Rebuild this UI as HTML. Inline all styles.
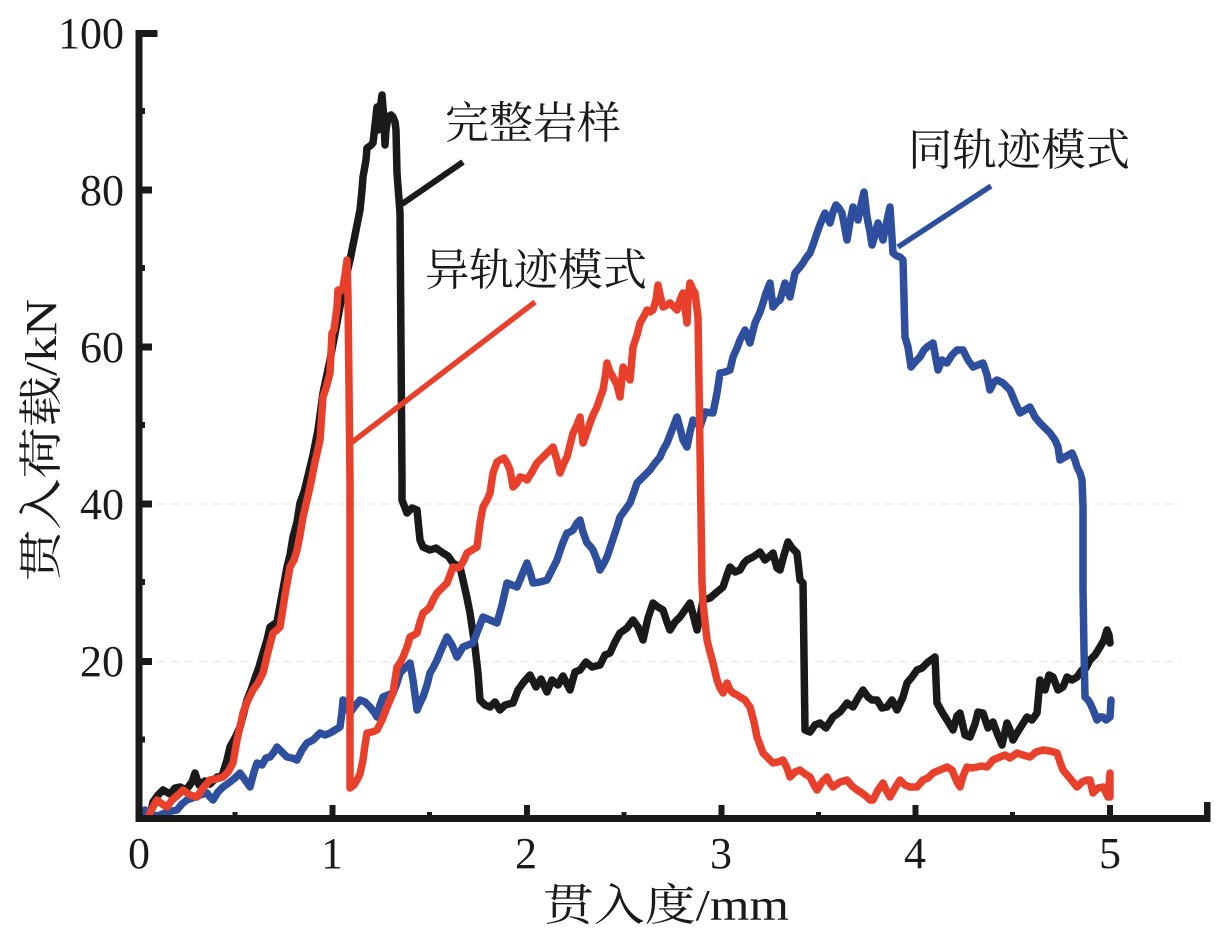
<!DOCTYPE html>
<html>
<head>
<meta charset="utf-8">
<style>
html,body{margin:0;padding:0;background:#fff;}
svg{display:block;}
.num{font-family:"Liberation Serif","Noto Serif CJK SC",serif;font-size:44px;fill:#1a1a1a;}
.cjk{font-family:"Liberation Serif","Noto Serif CJK SC","Noto Sans CJK SC",serif;font-size:44px;fill:#1a1a1a;}
</style>
</head>
<body>
<svg width="1223" height="944" viewBox="0 0 1223 944" xmlns="http://www.w3.org/2000/svg">
<rect width="1223" height="944" fill="#fff"/>
<!-- faint grid -->
<line x1="143" y1="504" x2="1180" y2="504" stroke="#e6e6e6" stroke-width="1.2" stroke-dasharray="8,6"/>
<line x1="143" y1="661.5" x2="1180" y2="661.5" stroke="#e6e6e6" stroke-width="1.2" stroke-dasharray="8,6"/>

<!-- series -->
<g fill="none" stroke-linejoin="round" stroke-linecap="round" stroke-width="7.5">
<polyline stroke="#1a1a1a" points="150,816 153,802 158,795 163,790 170,794 175,788 180,787 186,790 192,782 195,773 199,785 205,781 210,784 217,777 222,776 227,760 230,747 235,738 240,727 244,712 247,700 251,690 255,678 259,667 263,653 267,640 270,627 277,622 281,600 287,567 290,555 293,537 297,522 300,503 304,492 307,480 313,455 318,430 323,393 330,360 337,323 343,290 350,260 355,235 360,210 362,190 363,177 366,160 367,148 370,146 373,143 375,125 377,107 378,130 380,110 382,95 384,120 385,145 386,130 388,117 391,115 393,117 395,122 396,130 397,173 400,213 402,480 402,500 407,513 412,508 417,510 420,540 423,547 430,550 436,548 443,553 448,556 453,563 460,567 463,580 467,598 470,613 475,647 478,673 480,700 485,705 490,707 495,702 500,710 505,705 513,703 518,690 523,683 530,675 536,687 541,679 547,692 552,680 558,685 563,676 570,690 575,672 580,670 586,662 592,667 600,665 605,655 610,653 615,642 620,633 627,628 633,620 638,627 643,640 648,618 653,603 658,607 663,610 667,622 670,630 675,622 680,617 685,610 690,603 694,618 697,630 700,617 703,600 710,598 717,592 723,587 727,575 730,567 735,572 740,570 744,563 747,560 753,557 760,552 765,560 770,556 773,553 777,568 780,570 784,555 788,542 792,548 797,553 800,580 803,583 805,730 810,732 815,725 820,723 826,728 833,717 840,712 847,703 853,707 858,698 863,690 868,697 872,700 877,700 882,708 887,707 892,700 897,710 903,697 907,683 912,677 917,670 922,668 928,662 935,657 937,703 942,712 947,720 953,730 957,716 960,713 965,735 970,737 975,724 978,712 983,713 988,728 993,722 997,733 1000,740 1002,745 1007,723 1010,730 1013,740 1017,733 1022,725 1027,717 1032,720 1037,713 1040,680 1045,690 1049,675 1053,677 1058,690 1063,687 1067,677 1072,680 1077,677 1082,670 1086,668 1090,660 1095,655 1100,647 1104,640 1107,630 1109,635 1110,643"/>
<polyline stroke="#2d4f9e" points="142,815 145,810 150,814 158,816 165,813 172,811 177,810 182,804 187,800 195,797 200,795 207,793 210,797 213,800 218,792 223,787 230,782 235,778 240,773 245,780 250,787 254,772 257,763 262,765 266,758 270,757 274,752 277,747 282,752 287,757 292,758 297,760 302,750 307,743 313,740 320,733 325,735 330,733 335,730 340,727 342,712 343,700 347,707 350,713 355,706 360,700 365,702 370,707 374,712 377,717 380,705 383,697 388,695 393,693 397,683 400,673 405,668 410,663 413,680 417,710 420,703 423,697 427,685 430,673 433,668 437,660 442,648 447,637 452,645 457,657 460,652 463,647 468,645 473,643 478,630 483,617 490,620 497,623 502,605 507,583 512,585 517,587 522,575 527,563 530,572 533,583 540,582 547,580 552,570 557,560 562,545 567,533 570,532 573,530 577,523 580,520 583,532 587,543 590,546 593,550 597,560 600,570 603,565 607,557 612,542 617,527 620,517 625,510 630,503 634,492 637,483 643,477 650,470 655,463 660,457 663,450 667,443 672,430 677,417 680,428 683,440 687,447 690,432 693,420 697,423 700,427 705,412 713,413 717,393 720,373 725,372 730,370 733,357 737,348 740,340 745,330 750,343 755,323 760,312 763,303 766,293 770,283 773,307 777,302 780,300 785,283 790,297 795,273 800,267 803,263 806,258 810,253 814,242 817,233 821,222 825,213 830,223 833,212 836,205 839,208 842,213 847,240 850,222 853,207 858,220 861,205 864,192 867,217 870,232 872,245 875,235 878,223 883,240 886,225 890,207 893,253 897,256 900,257 903,260 905,337 908,347 911,367 915,362 920,357 924,350 927,347 930,345 933,343 938,370 942,360 947,363 952,355 957,350 963,350 968,360 973,367 978,365 983,363 987,375 990,390 994,382 997,380 1003,383 1007,387 1010,390 1015,402 1020,413 1025,410 1030,407 1035,417 1040,423 1045,428 1050,433 1055,440 1058,447 1060,460 1065,457 1072,453 1075,460 1077,467 1080,473 1082,480 1083,507 1083,590 1084,650 1085,697 1088,700 1090,703 1094,712 1097,720 1100,717 1103,717 1106,720 1110,717 1111,700"/>
<polyline stroke="#e8402b" points="148,818 150,813 154,805 157,800 162,804 167,807 172,800 178,795 183,790 190,795 197,797 203,788 210,780 216,779 223,777 228,772 233,763 237,740 240,727 243,713 248,700 253,690 258,683 263,673 268,652 273,633 277,630 280,627 285,595 290,567 294,560 297,550 300,535 303,517 307,500 310,487 315,462 320,440 323,397 326,388 330,373 332,333 334,330 337,307 338,290 341,291 343,287 345,275 347,260 348,297 350,480 350,788 354,785 357,780 360,774 363,760 365,745 367,733 372,732 377,730 382,720 387,707 390,700 393,693 397,667 400,663 403,657 407,647 410,637 414,635 417,633 420,622 423,613 427,610 430,607 433,600 437,593 442,588 447,583 450,575 453,567 457,568 460,567 464,560 467,553 472,550 477,547 480,523 483,507 487,500 490,493 493,473 497,462 500,460 504,458 507,463 510,470 513,487 517,483 520,477 524,478 527,480 532,472 537,463 542,458 547,453 550,450 553,447 557,460 560,473 563,465 567,457 570,445 573,433 577,425 580,417 583,443 587,432 590,423 593,415 597,407 600,398 603,390 605,378 607,363 610,372 613,377 617,385 620,397 623,367 627,375 630,380 633,347 637,335 640,323 644,316 647,310 650,312 653,310 656,300 658,285 660,295 663,307 667,305 670,303 673,306 677,310 680,300 683,293 687,323 688,300 690,283 693,290 695,293 698,317 700,450 702,583 703,603 707,640 710,652 713,663 717,680 720,688 723,693 727,683 730,690 733,693 737,695 740,697 745,700 747,703 750,707 754,722 757,737 760,745 763,753 768,758 773,763 778,762 783,760 787,768 790,777 795,772 800,770 805,774 810,777 814,785 817,790 822,782 827,777 830,783 833,787 840,782 847,780 852,786 857,790 862,793 867,797 870,800 873,800 878,790 883,783 886,790 890,797 895,788 900,780 905,785 910,787 917,787 923,780 928,778 933,773 940,770 947,767 952,770 957,782 960,787 963,776 967,767 972,768 977,767 982,766 987,767 993,760 1000,757 1005,755 1010,758 1017,753 1023,755 1030,757 1036,752 1043,750 1050,751 1057,753 1060,762 1063,770 1068,776 1073,782 1077,787 1082,782 1087,780 1090,780 1093,793 1098,788 1103,787 1106,793 1108,797 1110,773 1110,797"/>
</g>

<!-- leader lines -->
<line x1="402" y1="204" x2="463" y2="162" stroke="#1a1a1a" stroke-width="6"/>
<line x1="351" y1="443" x2="535" y2="302" stroke="#e8402b" stroke-width="5.5"/>
<line x1="898" y1="247" x2="991" y2="186" stroke="#2d4f9e" stroke-width="5.5"/>

<!-- axes -->
<g fill="#1a1a1a">
<rect x="135.5" y="30" width="7" height="792"/>
<rect x="135.5" y="815" width="1075" height="7"/>
<rect x="135.5" y="30" width="22" height="7"/>
<rect x="140" y="186.5" width="12" height="7"/>
<rect x="140" y="343.5" width="12" height="7"/>
<rect x="140" y="500.5" width="12" height="7"/>
<rect x="140" y="658" width="12" height="7"/>
<rect x="140" y="108" width="5" height="6"/>
<rect x="140" y="265" width="5" height="6"/>
<rect x="140" y="422" width="5" height="6"/>
<rect x="140" y="579" width="5" height="6"/>
<rect x="140" y="736.5" width="5" height="6"/>
<rect x="329.5" y="805" width="6" height="12"/>
<rect x="524" y="805" width="6" height="12"/>
<rect x="718.5" y="805" width="6" height="12"/>
<rect x="912.5" y="805" width="6" height="12"/>
<rect x="1107" y="805" width="6" height="12"/>
<rect x="1204" y="802" width="6.5" height="15"/>
<rect x="232.5" y="812" width="5" height="5"/>
<rect x="427" y="812" width="5" height="5"/>
<rect x="621.5" y="812" width="5" height="5"/>
<rect x="816" y="812" width="5" height="5"/>
<rect x="1010" y="812" width="5" height="5"/>
</g>

<!-- tick labels -->
<g class="num" text-anchor="end">
<text x="124" y="48">100</text>
<text x="124" y="205">80</text>
<text x="124" y="362">60</text>
<text x="124" y="519">40</text>
<text x="124" y="676">20</text>
</g>
<g class="num" text-anchor="middle">
<text x="139" y="868">0</text>
<text x="332" y="868">1</text>
<text x="526" y="868">2</text>
<text x="721" y="868">3</text>
<text x="915" y="868">4</text>
<text x="1110" y="868">5</text>
</g>

<!-- axis titles -->
<text class="cjk" x="543" y="920" textLength="246" lengthAdjust="spacingAndGlyphs">贯入度/mm</text>
<text class="cjk" transform="translate(56,581) rotate(-90)" x="0" y="0" textLength="282" lengthAdjust="spacingAndGlyphs">贯入荷载/kN</text>

<!-- annotations -->
<text class="cjk" x="445" y="138" textLength="176" lengthAdjust="spacingAndGlyphs">完整岩样</text>
<text class="cjk" x="908" y="165" textLength="222" lengthAdjust="spacingAndGlyphs">同轨迹模式</text>
<text class="cjk" x="425" y="285" textLength="222" lengthAdjust="spacingAndGlyphs">异轨迹模式</text>
</svg>
</body>
</html>
